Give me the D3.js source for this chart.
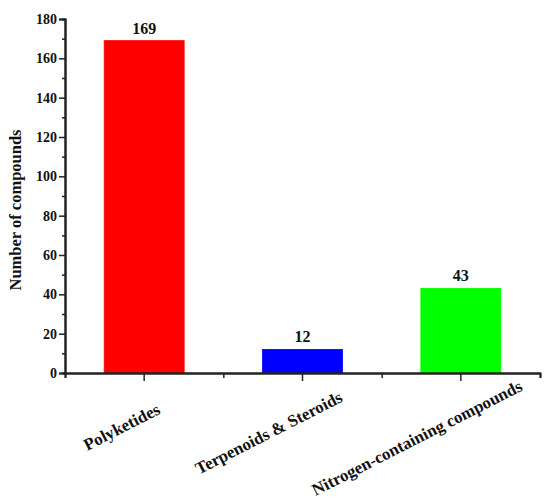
<!DOCTYPE html>
<html>
<head>
<meta charset="utf-8">
<script src="https://cdn.jsdelivr.net/npm/d3@7"></script>
<style>
  body { margin: 0; background: #fff; }
  text { font-family: "Liberation Serif", "Times New Roman", serif; font-weight: bold; fill: #111; }
</style>
</head>
<body>
<div id="chart"></div>
<script>
var categories = ["Polyketides", "Terpenoids & Steroids", "Nitrogen-containing compounds"];
var counts = [169, 12, 43];
var colors = ["#ff0000", "#0000ff", "#00ff00"];
var yTicks = [0, 20, 40, 60, 80, 100, 120, 140, 160, 180];

var svg = d3.select("#chart")
    .append("svg")
    .attr("width", 550)
    .attr("height", 499);

var margin = {top: 19, left: 65},
    width = 475,
    height = 354;

var xPos = d3.scaleBand().domain(categories).range([0, width]);
var y = d3.scaleLinear().domain([0, 180]).range([height, 0]);
var barW = xPos.bandwidth() * 0.505;

var g = svg.append("g")
    .attr("transform", "translate(" + margin.left + "," + margin.top + ")");

// bars
g.selectAll(".bar")
    .data(counts)
    .enter().append("rect")
    .attr("class", "bar")
    .attr("x", function (d, i) { return xPos(categories[i]) + (xPos.bandwidth() - barW) / 2; })
    .attr("width", barW)
    .attr("y", function (d) { return y(d); })
    .attr("height", function (d) { return height - y(d); })
    .attr("fill", function (d, i) { return colors[i]; })
    .attr("stroke", function (d, i) { return d3.color(colors[i]).brighter(0.6); })
    .attr("stroke-width", 0.8);

// value labels
g.selectAll(".val")
    .data(counts)
    .enter().append("text")
    .attr("class", "val")
    .attr("x", function (d, i) { return xPos(categories[i]) + xPos.bandwidth() / 2; })
    .attr("y", function (d) { return y(d) - 7; })
    .attr("text-anchor", "middle")
    .style("font-size", "16px")
    .text(function (d) { return d; });

// y axis minor ticks
var yMinor = d3.axisLeft(y).tickValues(d3.range(10, 180, 20)).tickSize(3).tickFormat("");
g.append("g").attr("class", "axis").call(yMinor);

var yAxis = d3.axisLeft(y).tickValues(yTicks).tickSize(6).tickPadding(2);
var yg = g.append("g").attr("class", "axis").call(yAxis);
yg.selectAll("text").style("font-size", "14px");

// x axis minor ticks at band edges
var xMinor = d3.axisBottom(d3.scaleLinear().domain([0, 3]).range([0, width]))
    .tickValues([0, 1, 2, 3]).tickSize(5).tickFormat("");
g.append("g").attr("class", "axis")
    .attr("transform", "translate(0," + height + ")")
    .call(xMinor);

var xAxis = d3.axisBottom(xPos).tickSize(8).tickSizeOuter(0);
var xg = g.append("g").attr("class", "axis")
    .attr("transform", "translate(0," + height + ")")
    .call(xAxis);
xg.selectAll("text")
    .style("font-size", "17px")
    .attr("text-anchor", "end")
    .attr("dy", null)
    .attr("y", 0)
    .attr("x", function () { return 0.34 * this.getComputedTextLength(); })
    .attr("transform", "translate(-8,53) rotate(-27)");

svg.selectAll(".axis path, .axis line")
    .attr("stroke", "#222")
    .attr("stroke-width", 2);
svg.selectAll(".axis .tick line").attr("stroke-width", 1.5);

// y label
svg.append("text")
    .attr("transform", "translate(21,210) rotate(-90)")
    .attr("text-anchor", "middle")
    .style("font-size", "16.5px")
    .text("Number of compounds");
</script>
</body>
</html>
